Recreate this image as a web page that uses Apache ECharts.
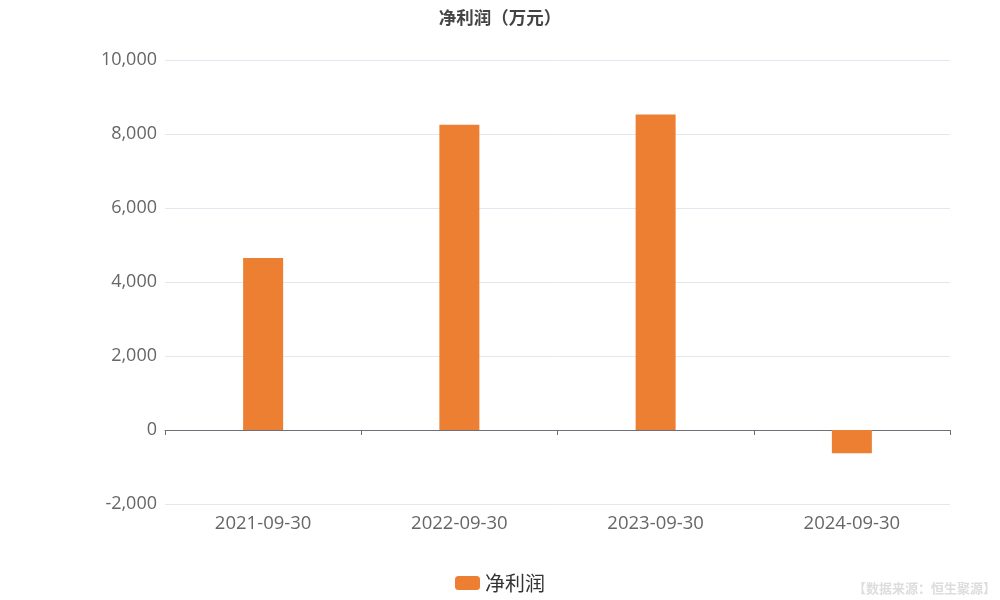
<!DOCTYPE html>
<html><head><meta charset="utf-8">
<script src="https://cdn.jsdelivr.net/npm/echarts@6/dist/echarts.min.js"></script>
<style>html,body{margin:0;padding:0;background:#fff}#c{width:1000px;height:600px}</style>
</head><body><div id="c"></div>
<script>
const categories = ['2021-09-30','2022-09-30','2023-09-30','2024-09-30'];
const netProfit = [4650, 8250, 8530, -630];
const seriesName = '净利润';
const titleText = '净利润（万元）';
const sourceText = '【数据来源：恒生聚源】';

const chart = echarts.init(document.getElementById('c'));
chart.setOption({
  animation: false,
  title: { text: titleText, left: 'center', top: 4,
    textStyle: { fontSize: 17.5, fontWeight: 'bold', color: '#444', fontFamily: 'Noto Sans CJK SC' } },
  graphic: [{ type: 'text', right: 4, bottom: 5,
    style: { text: sourceText, fill: '#ddd', fontSize: 13, fontWeight: 'bold', fontFamily: 'Noto Sans CJK SC' } }],
  legend: { bottom: 2, left: 'center', itemWidth: 25, itemHeight: 14, icon: 'roundRect',
    textStyle: { fontSize: 20, color: '#333', fontFamily: 'Noto Sans CJK SC' } },
  grid: { left: 165, right: 50, top: 60, bottom: 96 },
  xAxis: { type: 'category', data: categories,
    axisLine: { lineStyle: { color: '#6e7079' } },
    axisTick: { show: true, lineStyle: { color: '#6e7079' } },
    axisLabel: { fontSize: 18.5, color: '#666', margin: 10, fontFamily: 'Open Sans' } },
  yAxis: { type: 'value', min: -2000, max: 10000, interval: 2000,
    axisLabel: { fontSize: 18, color: '#666', margin: 8, fontFamily: 'Open Sans',
      formatter: v => v.toLocaleString('en-US') },
    splitLine: { lineStyle: { color: '#e6e6f0' } } },
  series: [{ name: seriesName, type: 'bar', data: netProfit, barWidth: 40,
    itemStyle: { color: '#ed7f33' } }]
});
</script></body></html>
